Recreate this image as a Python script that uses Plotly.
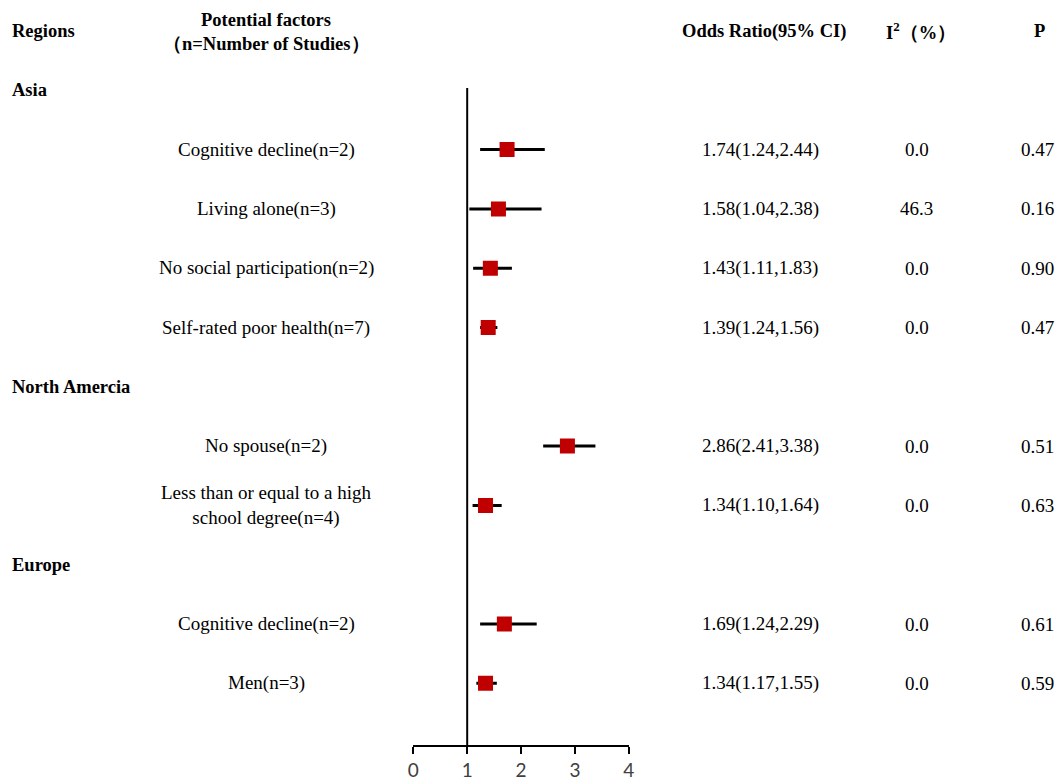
import plotly.graph_objects as go

# ---- data ----
regions = ["Asia", "North Amercia", "Europe"]
factors = [
    "Cognitive decline(n=2)", "Living alone(n=3)", "No social participation(n=2)",
    "Self-rated poor health(n=7)", "No spouse(n=2)",
    "Less than or equal to a high<br>school degree(n=4)",
    "Cognitive decline(n=2)", "Men(n=3)",
]
factor_region = ["Asia", "Asia", "Asia", "Asia", "North Amercia", "North Amercia", "Europe", "Europe"]
odds = [1.74, 1.58, 1.43, 1.39, 2.86, 1.34, 1.69, 1.34]
lower = [1.24, 1.04, 1.11, 1.24, 2.41, 1.10, 1.24, 1.17]
upper = [2.44, 2.38, 1.83, 1.56, 3.38, 1.64, 2.29, 1.55]
or_text = ["1.74(1.24,2.44)", "1.58(1.04,2.38)", "1.43(1.11,1.83)", "1.39(1.24,1.56)",
           "2.86(2.41,3.38)", "1.34(1.10,1.64)", "1.69(1.24,2.29)", "1.34(1.17,1.55)"]
i2 = ["0.0", "46.3", "0.0", "0.0", "0.0", "0.0", "0.0", "0.0"]
pvals = ["0.47", "0.16", "0.90", "0.47", "0.51", "0.63", "0.61", "0.59"]
x_ticks = [0, 1, 2, 3, 4]

# ---- row layout ----
rows = []  # (kind, label, idx)
for r in regions:
    rows.append(("region", r, None))
    for i, fr in enumerate(factor_region):
        if fr == r:
            rows.append(("factor", factors[i], i))

y_factor = [None] * len(factors)
for k, (kind, lab, idx) in enumerate(rows, start=1):
    if kind == "factor":
        y_factor[idx] = -k

W, H = 1055, 782
SERIF = "Liberation Serif, Times New Roman, serif"

fig = go.Figure()
fig.add_trace(go.Scatter(
    x=odds, y=y_factor, mode="markers",
    marker=dict(symbol="square", size=15, color="#C00000", line=dict(width=0)),
    error_x=dict(type="data", symmetric=False,
                 array=[u - o for u, o in zip(upper, odds)],
                 arrayminus=[o - l for o, l in zip(odds, lower)],
                 color="black", thickness=3, width=0),
    showlegend=False, hoverinfo="skip",
))

ann = []
def txt(xpx, y, text, bold=False, anchor="center", size=19):
    ann.append(dict(x=xpx / W, y=y, xref="paper", yref="y",
                    text=("<b>%s</b>" % text) if bold else text,
                    showarrow=False, xanchor=anchor, yanchor="middle",
                    font=dict(family=SERIF, size=size, color="black")))

HB = 18.5
# headers
txt(4, 0, "Regions", bold=True, anchor="left", size=HB)
txt(263, 0.19, "Potential factors", bold=True, size=HB)
txt(263, -0.22, "（n=Number of Studies）", bold=True, size=HB)
txt(767, 0, "Odds Ratio(95% CI)", bold=True, size=HB)
txt(926, 0, "I<sup>2</sup>（%）", bold=True, size=HB)
txt(1045, 0, "P", bold=True, size=HB)

for k, (kind, lab, idx) in enumerate(rows, start=1):
    if kind == "region":
        txt(4, -k, lab, bold=True, anchor="left", size=HB)
    else:
        txt(263, -k, lab)
        txt(763, -k, or_text[idx])
        txt(921, -k, i2[idx])
        txt(1043, -k, pvals[idx])

y_bottom = -12.04
fig.add_shape(type="line", xref="x", yref="y", x0=1, x1=1, y0=-0.96, y1=y_bottom,
              line=dict(color="black", width=2))

fig.update_layout(
    width=W, height=H, margin=dict(l=0, r=0, t=0, b=0),
    paper_bgcolor="white", plot_bgcolor="white",
    annotations=ann,
    xaxis=dict(domain=[412 / W, 630 / W], range=[0, 4], tickvals=x_ticks,
               showline=True, linecolor="black", linewidth=2,
               ticks="outside", ticklen=7, tickwidth=2, tickcolor="black",
               showgrid=False, zeroline=False,
               tickfont=dict(family="Lato, Open Sans, sans-serif", size=19, color="#404040")),
    yaxis=dict(domain=[37 / H, 1], range=[y_bottom, 0.523], visible=False,
               showgrid=False, zeroline=False),
)

fig.write_html("out.html", config={"displayModeBar": False},
               post_script="document.body.style.margin='0';document.body.style.overflow='hidden';")
